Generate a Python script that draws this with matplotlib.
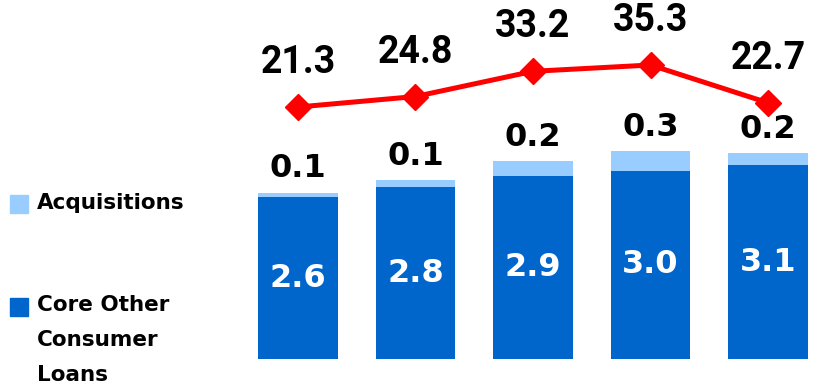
import matplotlib.pyplot as plt
from matplotlib.patches import Rectangle

core = [2.6, 2.76, 2.94, 3.02, 3.11]
acq = [0.07, 0.11, 0.24, 0.32, 0.19]
line_vals = [21.3, 24.8, 33.2, 35.3, 22.7]

core_color = '#0066CC'
acq_color = '#99CCFF'
red = '#FF0000'

fig = plt.figure(figsize=(8.23, 3.86), dpi=100)
ax = fig.add_axes([0, 0, 1, 1])
ax.set_xlim(-2.536, 4.468)
ax.set_ylim(-0.433, 5.762)
ax.axis('off')

x = list(range(len(core)))
ax.bar(x, core, width=0.68, color=core_color)
ax.bar(x, acq, width=0.68, bottom=core, color=acq_color)

for i in x:
    ax.text(i, core[i] / 2, '%.1f' % core[i], color='white', ha='center', va='center',
            fontsize=23, fontweight='bold', family='DejaVu Sans')
    ax.annotate('%.1f' % acq[i], (i, core[i] + acq[i]), xytext=(0, 6), textcoords='offset points',
                ha='center', va='bottom', fontsize=23, fontweight='bold', family='DejaVu Sans')

ax2 = ax.twinx()
ax2.set_ylim(-71.7, 56.97)
ax2.axis('off')
ax2.plot(x, line_vals, color=red, lw=3.6, marker='D', markersize=13, zorder=5)
for i in x:
    ax2.annotate('%.1f' % line_vals[i], (i, line_vals[i]), xytext=(0, 32), textcoords='offset points',
                 ha='center', va='center', fontsize=27, fontweight='bold', family='Roboto')

# legend
fig.patches.append(Rectangle((10 / 823, 1 - 213 / 386), 18 / 823, 18 / 386,
                             transform=fig.transFigure, color=acq_color))
fig.patches.append(Rectangle((10 / 823, 1 - 316 / 386), 18 / 823, 18 / 386,
                             transform=fig.transFigure, color=core_color))
fig.text(37 / 823, 1 - 203 / 386, 'Acquisitions', fontsize=15.5, fontweight='bold', va='center')
for j, line in enumerate(['Core Other', 'Consumer', 'Loans']):
    fig.text(37 / 823, 1 - (305 + 35 * j) / 386, line, fontsize=15.5, fontweight='bold', va='center')

fig.savefig('out.png', dpi=100)
